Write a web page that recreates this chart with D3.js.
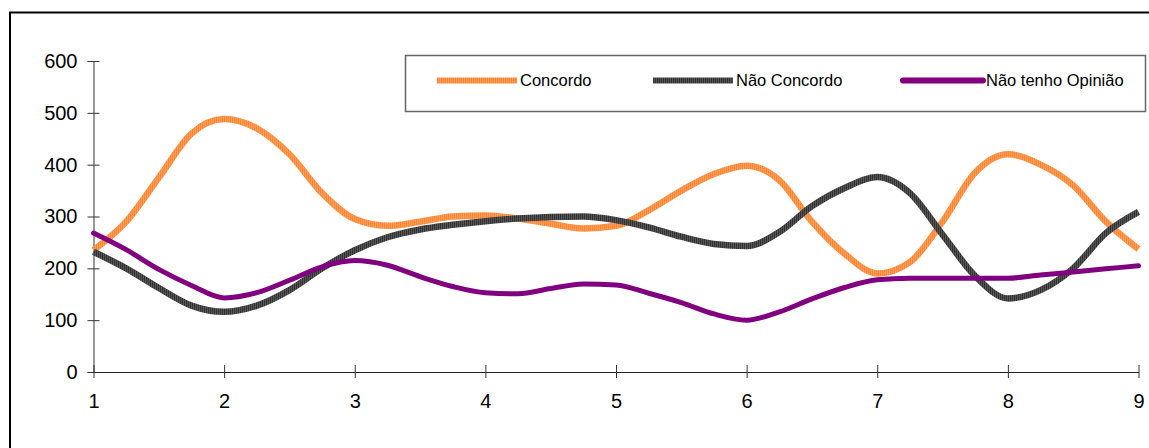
<!DOCTYPE html>
<html>
<head>
<meta charset="utf-8">
<script src="https://cdn.jsdelivr.net/npm/d3@7"></script>
<style>
html,body{margin:0;padding:0;background:#fff;}
svg{display:block;}
text{font-family:"Liberation Sans",Arial,sans-serif;fill:#000;}
</style>
</head>
<body>
<svg id="chart" width="1149" height="448"></svg>
<script>
// x positions (data sampled every quarter unit)
const xValues = [1,1.25,1.5,1.75,2,2.25,2.5,2.75,3,3.25,3.5,3.75,4,4.25,4.5,4.75,5,5.25,5.5,5.75,6,6.25,6.5,6.75,7,7.25,7.5,7.75,8,8.25,8.5,8.75,9];
const concordo = [235,290,375,460,488,470,420,345,295,282,290,300,302,296,286,277,282,312,350,382,398,370,290,228,190,212,290,385,420,400,360,290,237];
const naoConcordo = [232,200,162,128,116,128,158,200,235,260,275,284,291,296,299,300,293,279,261,247,243,270,320,355,376,345,265,185,142,158,200,268,309];
const naoTenho = [268,236,198,167,143,153,177,203,215,206,184,165,153,151,161,170,168,152,134,112,100,116,141,163,178,181,181,181,181,187,193,199,205];
const seriesNames = ["Concordo","Não Concordo","Não tenho Opinião"];
const xTicks = [1,2,3,4,5,6,7,8,9];
const yTicks = [0,100,200,300,400,500,600];

const svg = d3.select("#chart");
const defs = svg.append("defs");

function stripe(id, c1, c2){
  const p = defs.append("pattern").attr("id", id).attr("patternUnits","userSpaceOnUse")
    .attr("width",2).attr("height",10);
  p.append("rect").attr("x",0).attr("y",0).attr("width",1).attr("height",10).attr("fill",c1);
  p.append("rect").attr("x",1).attr("y",0).attr("width",1).attr("height",10).attr("fill",c2);
}
stripe("pOrange","#FF8533","#FF9E58");
stripe("pGray","#333333","#555555");

// outer border
svg.append("rect").attr("x",10).attr("y",12.5).attr("width",1160).attr("height",460)
  .attr("fill","none").attr("stroke","#000").attr("stroke-width",2);

const x = d3.scaleLinear().domain([1,9]).range([93.5,1138.5]);
const y = d3.scaleLinear().domain([0,600]).range([372,61]);

// axes
const yAxis = svg.append("g").attr("transform","translate(93.5,0)")
  .call(d3.axisLeft(y).tickValues(yTicks).tickSize(0).tickPadding(16).tickFormat(d3.format("d")));
yAxis.select(".domain").attr("stroke","#333");
yAxis.selectAll("text").attr("font-size",20).attr("font-family","'Liberation Sans',Arial,sans-serif").attr("fill","#000");
yAxis.selectAll(".tick").append("line").attr("x1",-6).attr("x2",6).attr("stroke","#333");

const xAxis = svg.append("g").attr("transform","translate(0,372)")
  .call(d3.axisBottom(x).tickValues(xTicks).tickSize(0).tickPadding(22).tickFormat(d3.format("d")));
xAxis.select(".domain").attr("stroke","#222");
xAxis.selectAll("text").attr("font-size",20).attr("font-family","'Liberation Sans',Arial,sans-serif").attr("fill","#000");
xAxis.selectAll(".tick").append("line").attr("y1",-7).attr("y2",6).attr("stroke","#333");

const line = d3.line().x((d,i)=>x(xValues[i])).y(d=>y(d)).curve(d3.curveMonotoneX);

const series = [
  {name: seriesNames[0], values: concordo, stroke: "url(#pOrange)", w: 6.5, cap:"butt"},
  {name: seriesNames[1], values: naoConcordo, stroke: "url(#pGray)", w: 6.5, cap:"butt"},
  {name: seriesNames[2], values: naoTenho, stroke: "#800080", w: 5, cap:"round"}
];

svg.append("g").selectAll("path").data(series).join("path")
  .attr("d", d=>line(d.values))
  .attr("fill","none")
  .attr("stroke", d=>d.stroke)
  .attr("stroke-width", d=>d.w)
  .attr("stroke-linejoin","round")
  .attr("stroke-linecap", d=>d.cap);

// legend
const lg = svg.append("g");
lg.append("rect").attr("x",405.5).attr("y",55.5).attr("width",740).attr("height",56)
  .attr("fill","#fff").attr("stroke","#666").attr("stroke-width",1.5);
const legendX = [437, 653, 903];
const items = lg.selectAll("g.item").data(series).join("g").attr("class","item")
  .attr("transform",(d,i)=>`translate(${legendX[i]},80.5)`);
items.append("line").attr("x1",0).attr("x2",80).attr("y1",0).attr("y2",0)
  .attr("stroke",d=>d.stroke).attr("stroke-width",6).attr("stroke-linecap",d=>d.cap);
items.append("text").attr("x",83).attr("y",0).attr("dy","0.36em")
  .attr("font-size",16.5).text(d=>d.name);
</script>
</body>
</html>
